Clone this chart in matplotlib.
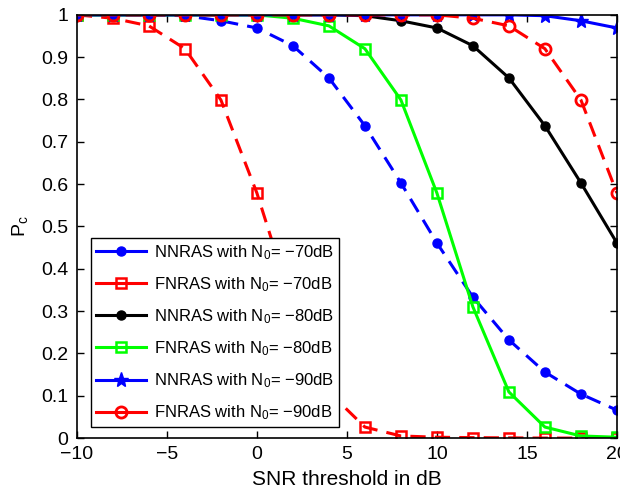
import matplotlib
matplotlib.use("Agg")
import matplotlib.pyplot as plt
from matplotlib.lines import Line2D
import numpy as np

plt.rcParams['font.family'] = ['Liberation Sans', 'DejaVu Sans']
plt.rcParams['mathtext.fontset'] = 'custom'
plt.rcParams['mathtext.rm'] = 'Liberation Sans'
plt.rcParams['mathtext.it'] = 'Liberation Sans'

snr = [-10, -8, -6, -4, -2, 0, 2, 4, 6, 8, 10, 12, 14, 16, 18, 20]
nnras_70 = [1, 1, 1, 0.998, 0.986, 0.969, 0.927, 0.851, 0.738, 0.603, 0.461, 0.333, 0.232, 0.156, 0.104, 0.066]
fnras_70 = [1, 0.992, 0.974, 0.920, 0.799, 0.579, 0.31, 0.109, 0.026, 0.005, 0.002, 0.001, 0.0005, 0, 0, 0]
nnras_80 = [1, 1, 1, 1, 1, 1, 1, 1, 0.998, 0.986, 0.969, 0.927, 0.851, 0.738, 0.603, 0.461]
fnras_80 = [1, 1, 1, 1, 1, 1, 0.992, 0.974, 0.920, 0.799, 0.579, 0.31, 0.109, 0.026, 0.005, 0.002]
nnras_90 = [1, 1, 1, 1, 1, 1, 1, 1, 1, 1, 1, 1, 1, 0.998, 0.986, 0.969]
fnras_90 = [1, 1, 1, 1, 1, 1, 1, 1, 1, 1, 1, 0.992, 0.974, 0.920, 0.799, 0.579]

labels = ['NNRAS with N$_0$= \u221270dB', 'FNRAS with N$_0$= \u221270dB',
          'NNRAS with N$_0$= \u221280dB', 'FNRAS with N$_0$= \u221280dB',
          'NNRAS with N$_0$= \u221290dB', 'FNRAS with N$_0$= \u221290dB']

fig = plt.figure(figsize=(6.2, 4.95), dpi=100)
ax = fig.add_axes([0.124, 0.115, 0.871, 0.855])

dash = (0, (5, 3))
lw = 2.2
styles = [
    dict(color='#0000ff', ls=dash, marker='o', ms=6.5, mfc='#0000ff', mew=1),
    dict(color='#ff0000', ls=dash, marker='s', ms=7, mfc='none', mew=1.8),
    dict(color='black', ls='-', marker='o', ms=6.5, mfc='black', mew=1),
    dict(color='#00ff00', ls='-', marker='s', ms=7, mfc='none', mew=1.8),
    dict(color='#0000ff', ls='-', marker='*', ms=11, mfc='#0000ff', mew=1),
    dict(color='#ff0000', ls=dash, marker='o', ms=8, mfc='none', mew=2),
]
series = [nnras_70, fnras_70, nnras_80, fnras_80, nnras_90, fnras_90]
handles = []
for ys, st, lab in zip(series, styles, labels):
    ax.plot(snr, ys, lw=lw, **st)
    hst = dict(st)
    hst['ls'] = '-'
    handles.append(Line2D([], [], lw=lw, **hst))

ax.set_xlim(-10, 20)
ax.set_ylim(0, 1)
ax.set_xticks([-10, -5, 0, 5, 10, 15, 20])
ax.set_xticklabels(['\u221210', '\u22125', '0', '5', '10', '15', '20'])
ax.set_yticks(np.arange(0, 1.01, 0.1))
ax.set_yticklabels(['0', '0.1', '0.2', '0.3', '0.4', '0.5', '0.6', '0.7', '0.8', '0.9', '1'])
ax.tick_params(direction='in', top=True, right=True, labelsize=14, length=5, width=1, pad=6)
for s in ax.spines.values():
    s.set_linewidth(1.2)
ax.set_xlabel('SNR threshold in dB', fontsize=15, labelpad=5)
ax.set_ylabel('P$_\\mathrm{c}$', fontsize=14, labelpad=8)

leg = ax.legend(handles, labels, loc='lower left', bbox_to_anchor=(0.026, 0.026), borderaxespad=0,
                fontsize=12, handlelength=3.0, handletextpad=0.5, fancybox=False, framealpha=1,
                edgecolor='black', labelspacing=0.8, borderpad=0.3)
leg.get_frame().set_linewidth(1.0)

fig.savefig('out.png', dpi=100)
